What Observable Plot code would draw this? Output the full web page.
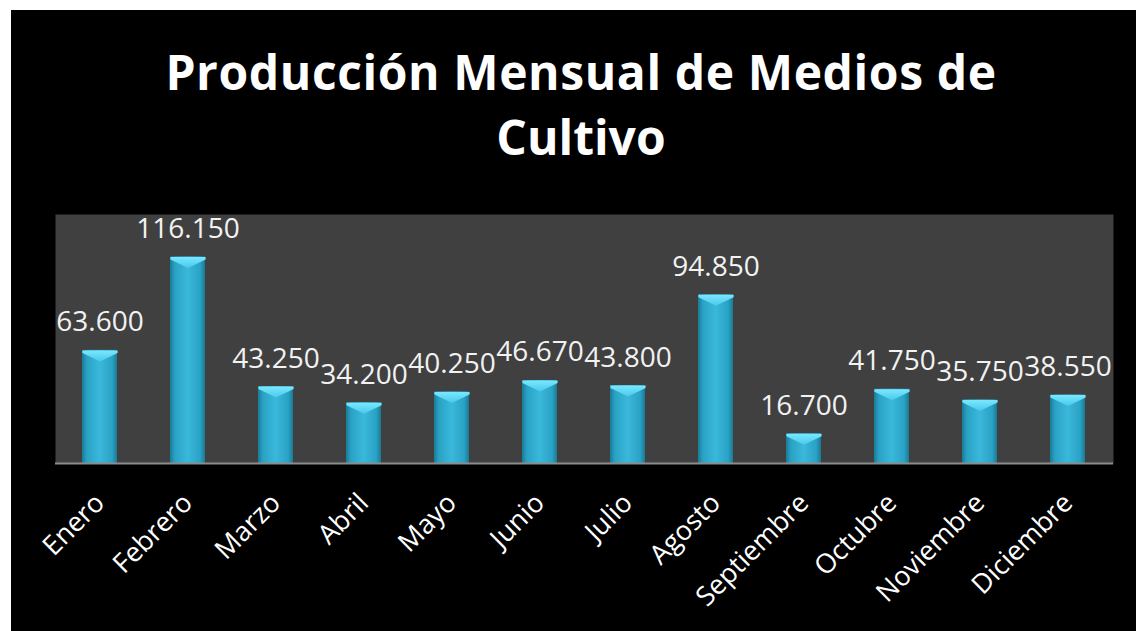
<!DOCTYPE html>
<html>
<head>
<meta charset="utf-8">
<script src="https://cdn.jsdelivr.net/npm/d3@7"></script>
<script src="https://cdn.jsdelivr.net/npm/@observablehq/plot@0.6"></script>
<style>
  html, body { margin: 0; padding: 0; background: #ffffff; overflow: hidden; }
  body { position: relative; width: 1136px; height: 631px; }
  #panel { position: absolute; left: 11px; top: 10px; width: 1125px; height: 621px; background: #000000; }
  #title { position: absolute; left: 0; top: 39px; width: 1162px; text-align: center;
    font-family: "Open Sans", sans-serif; font-weight: 700; font-size: 48px; line-height: 65px; color: #ffffff; }
  #title .l1 { letter-spacing: 0.6px; }
  #chart { position: absolute; left: 0; top: 190px; }
</style>
</head>
<body>
<div id="panel"></div>
<div id="title"><span class="l1">Producción Mensual de Medios de</span><br>Cultivo</div>
<div id="chart"></div>
<script>
const months = ["Enero","Febrero","Marzo","Abril","Mayo","Junio","Julio","Agosto","Septiembre","Octubre","Noviembre","Diciembre"];
const production = [63600, 116150, 43250, 34200, 40250, 46670, 43800, 94850, 16700, 41750, 35750, 38550];

const data = months.map((m, i) => ({month: m, value: production[i]}));
const fmt = d3.formatLocale({decimal: ",", thousands: ".", grouping: [3]}).format(",d");

const bevel = {
  draw(context) {
    context.moveTo(-17.6, 0);
    context.lineTo(17.6, 0);
    context.lineTo(17.6, 2.5);
    context.lineTo(0, 11);
    context.lineTo(-17.6, 2.5);
    context.closePath();
  }
};

const chart = Plot.plot({
  width: 1136,
  height: 441,
  marginLeft: 55,
  marginRight: 23,
  marginTop: 24,
  marginBottom: 168,
  style: {background: "transparent", overflow: "visible", fontFamily: "'Open Sans', sans-serif"},
  x: {domain: months, paddingInner: 0.6, paddingOuter: 0.3},
  y: {domain: [0, 140000], axis: null},
  marks: [
    Plot.frame({fill: "#404040", stroke: null}),
    Plot.barY(data, {x: "month", y: "value", fill: "url(#barGrad)"}),
    Plot.dot(data, {x: "month", y: "value", symbol: bevel, r: 10, fill: "url(#bevelGrad)", stroke: null}),
    Plot.ruleY([0], {stroke: "#8c8c8c", strokeWidth: 2}),
    Plot.text(data, {x: "month", y: "value", text: d => fmt(d.value), lineAnchor: "bottom", dy: -19,
      fill: "#f2f2f2", fontSize: 28}),
    Plot.axisX({tickSize: 0, tickRotate: -45, tickPadding: 35, fontSize: 27, fill: "#ffffff", label: null})
  ]
});

d3.select(chart).insert("defs", ":first-child").html(`
  <linearGradient id="barGrad" x1="0" x2="1" y1="0" y2="0">
    <stop offset="0%" stop-color="#1a7a96"/>
    <stop offset="14%" stop-color="#2aa2c4"/>
    <stop offset="50%" stop-color="#3ab8db"/>
    <stop offset="86%" stop-color="#2aa2c4"/>
    <stop offset="100%" stop-color="#1a7a96"/>
  </linearGradient>
  <linearGradient id="bevelGrad" x1="0" x2="0" y1="0" y2="1">
    <stop offset="0%" stop-color="#7ae8ff"/>
    <stop offset="100%" stop-color="#48c8ea"/>
  </linearGradient>
`);

document.getElementById("chart").appendChild(chart);
</script>
</body>
</html>
